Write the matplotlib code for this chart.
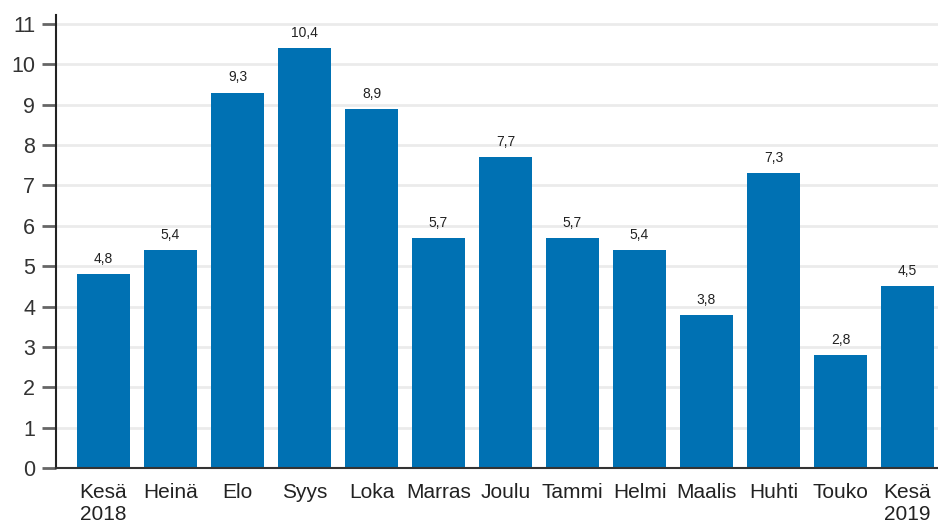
import matplotlib.pyplot as plt
import numpy as np

months = ['Kesä\n2018', 'Heinä', 'Elo', 'Syys', 'Loka', 'Marras', 'Joulu',
          'Tammi', 'Helmi', 'Maalis', 'Huhti', 'Touko', 'Kesä\n2019']
values = [4.8, 5.4, 9.3, 10.4, 8.9, 5.7, 7.7, 5.7, 5.4, 3.8, 7.3, 2.8, 4.5]
yticks = list(range(0, 12))

plt.rcParams['font.family'] = ['Liberation Sans', 'DejaVu Sans']

fig = plt.figure(figsize=(9.38, 5.27), dpi=100)
ax = fig.add_axes([56 / 938, 59 / 527, 1 - 56 / 938, (512 - 59) / 527])

x = np.arange(len(months))
bars = ax.bar(x, values, width=0.79, color='#0071b3', zorder=2)

for xi, v in zip(x, values):
    ax.text(xi, v + 0.2, '{:.1f}'.format(v).replace('.', ','),
            ha='center', va='bottom', fontsize=10, color='#222222')

ax.set_xlim(-0.709, 12.455)
ax.set_ylim(0, 11.22)
ax.set_yticks(yticks)
ax.set_yticklabels([str(t) for t in yticks], fontsize=15.5, color='#333333')
ax.set_xticks(x)
ax.set_xticklabels(months, fontsize=15, color='#222222', va='top',
                   linespacing=1.15)
ax.tick_params(axis='x', length=0, pad=11)
ax.tick_params(axis='y', length=10, width=2, color='#666666', pad=5)

ax.grid(axis='y', color='#ebebeb', linewidth=2, zorder=0)
for s in ['top', 'right']:
    ax.spines[s].set_visible(False)
ax.spines['left'].set_color('#222222')
ax.spines['left'].set_linewidth(1.5)
ax.spines['bottom'].set_color('#333333')
ax.spines['bottom'].set_linewidth(1.5)
ax.spines['bottom'].set_zorder(3)

fig.savefig('out.png', dpi=100)
